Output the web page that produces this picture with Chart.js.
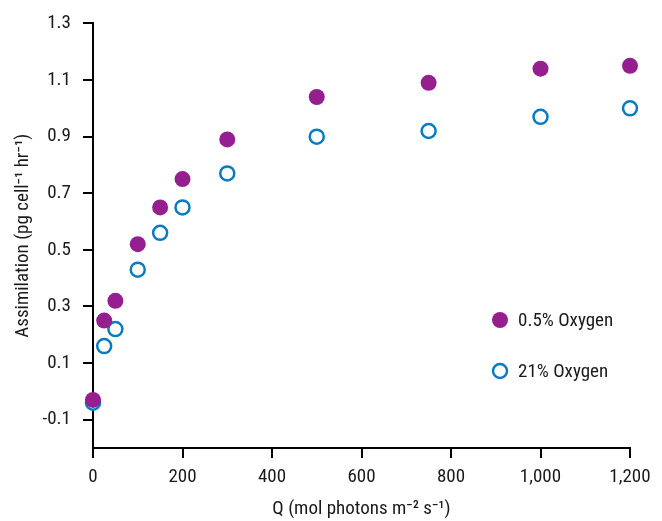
<!DOCTYPE html>
<html><head><meta charset="utf-8">
<script src="https://cdn.jsdelivr.net/npm/chart.js@4"></script>
<style>html,body{margin:0;padding:0;background:#fff}#w{width:662px;height:521px}</style>
</head><body><div id="w"><canvas id="c" width="662" height="521"></canvas></div>
<script>
const lightQ = [0, 25, 50, 100, 150, 200, 300, 500, 750, 1000, 1200];
const lowOxygen = [-0.03, 0.25, 0.32, 0.52, 0.65, 0.75, 0.89, 1.04, 1.09, 1.14, 1.15];
const highOxygen = [-0.04, 0.16, 0.22, 0.43, 0.56, 0.65, 0.77, 0.90, 0.92, 0.97, 1.00];
const seriesNames = ['0.5% Oxygen', '21% Oxygen'];
const yTicks = [-0.1, 0.1, 0.3, 0.5, 0.7, 0.9, 1.1, 1.3];

const FONT = '"Liberation Sans Narrow","Roboto Condensed","Arial Narrow",Roboto,sans-serif';
const purple = '#951f8f';
const blue = '#0a7bc1';

const legendPlugin = {
  id: 'inLegend',
  afterDatasetsDraw(chart) {
    const ctx = chart.ctx;
    const spots = [{x: 500, y: 320}, {x: 500, y: 371}];
    seriesNames.forEach((name, i) => {
      const ds = chart.data.datasets.find(d => d.label === name);
      const p = spots[i];
      ctx.save();
      ctx.beginPath();
      ctx.arc(p.x, p.y, ds.pointRadius, 0, Math.PI * 2);
      ctx.fillStyle = ds.pointBackgroundColor;
      ctx.fill();
      if (ds.pointBorderWidth > 0) {
        ctx.lineWidth = ds.pointBorderWidth;
        ctx.strokeStyle = ds.pointBorderColor;
        ctx.stroke();
      }
      ctx.fillStyle = '#1a1a1a';
      ctx.font = '19px ' + FONT;
      ctx.textBaseline = 'middle';
      ctx.fillText(name, p.x + 18, p.y + 1);
      ctx.restore();
    });
  }
};

new Chart(document.getElementById('c'), {
  type: 'scatter',
  data: {
    datasets: [
      { label: seriesNames[1], data: lightQ.map((q, i) => ({x: q, y: highOxygen[i]})),
        pointRadius: 7, pointBackgroundColor: '#ffffff', pointBorderColor: blue, pointBorderWidth: 2.5,
        pointHoverRadius: 7, clip: false, order: 2 },
      { label: seriesNames[0], data: lightQ.map((q, i) => ({x: q, y: lowOxygen[i]})),
        pointRadius: 8, pointBackgroundColor: purple, pointBorderColor: purple, pointBorderWidth: 0,
        pointHoverRadius: 8, clip: false, order: 1 }
    ]
  },
  options: {
    responsive: false, animation: false,
    layout: { padding: { left: 8, right: 32, top: 20, bottom: 0 } },
    plugins: { legend: { display: false }, tooltip: { enabled: false } },
    scales: {
      x: {
        type: 'linear', min: 0, max: 1200,
        ticks: { stepSize: 200, color: '#1a1a1a', font: { family: FONT, size: 19 }, padding: 8 },
        grid: { drawOnChartArea: false, drawTicks: true, tickLength: 10, color: '#000', lineWidth: 2 },
        border: { color: '#000', width: 2 },
        title: { display: true, text: 'Q (mol photons m⁻² s⁻¹)', color: '#1a1a1a', font: { family: FONT, size: 19 }, padding: { top: 10, bottom: 0 } },
        afterFit(s) { s.height = 73; }
      },
      y: {
        type: 'linear', min: -0.2, max: 1.3,
        afterBuildTicks(s) { s.ticks = yTicks.map(v => ({ value: v })); },
        ticks: { color: '#1a1a1a', font: { family: FONT, size: 19 }, padding: 12,
          callback: v => v.toFixed(1) },
        grid: { drawOnChartArea: false, drawTicks: true, tickLength: 10, color: '#000', lineWidth: 2 },
        border: { color: '#000', width: 2 },
        title: { display: true, text: 'Assimilation (pg cell⁻¹ hr⁻¹)', color: '#1a1a1a', font: { family: FONT, size: 19 }, padding: { bottom: 2 } },
        afterFit(s) { s.width = 85; }
      }
    }
  },
  plugins: [legendPlugin]
});
</script>
</body></html>
